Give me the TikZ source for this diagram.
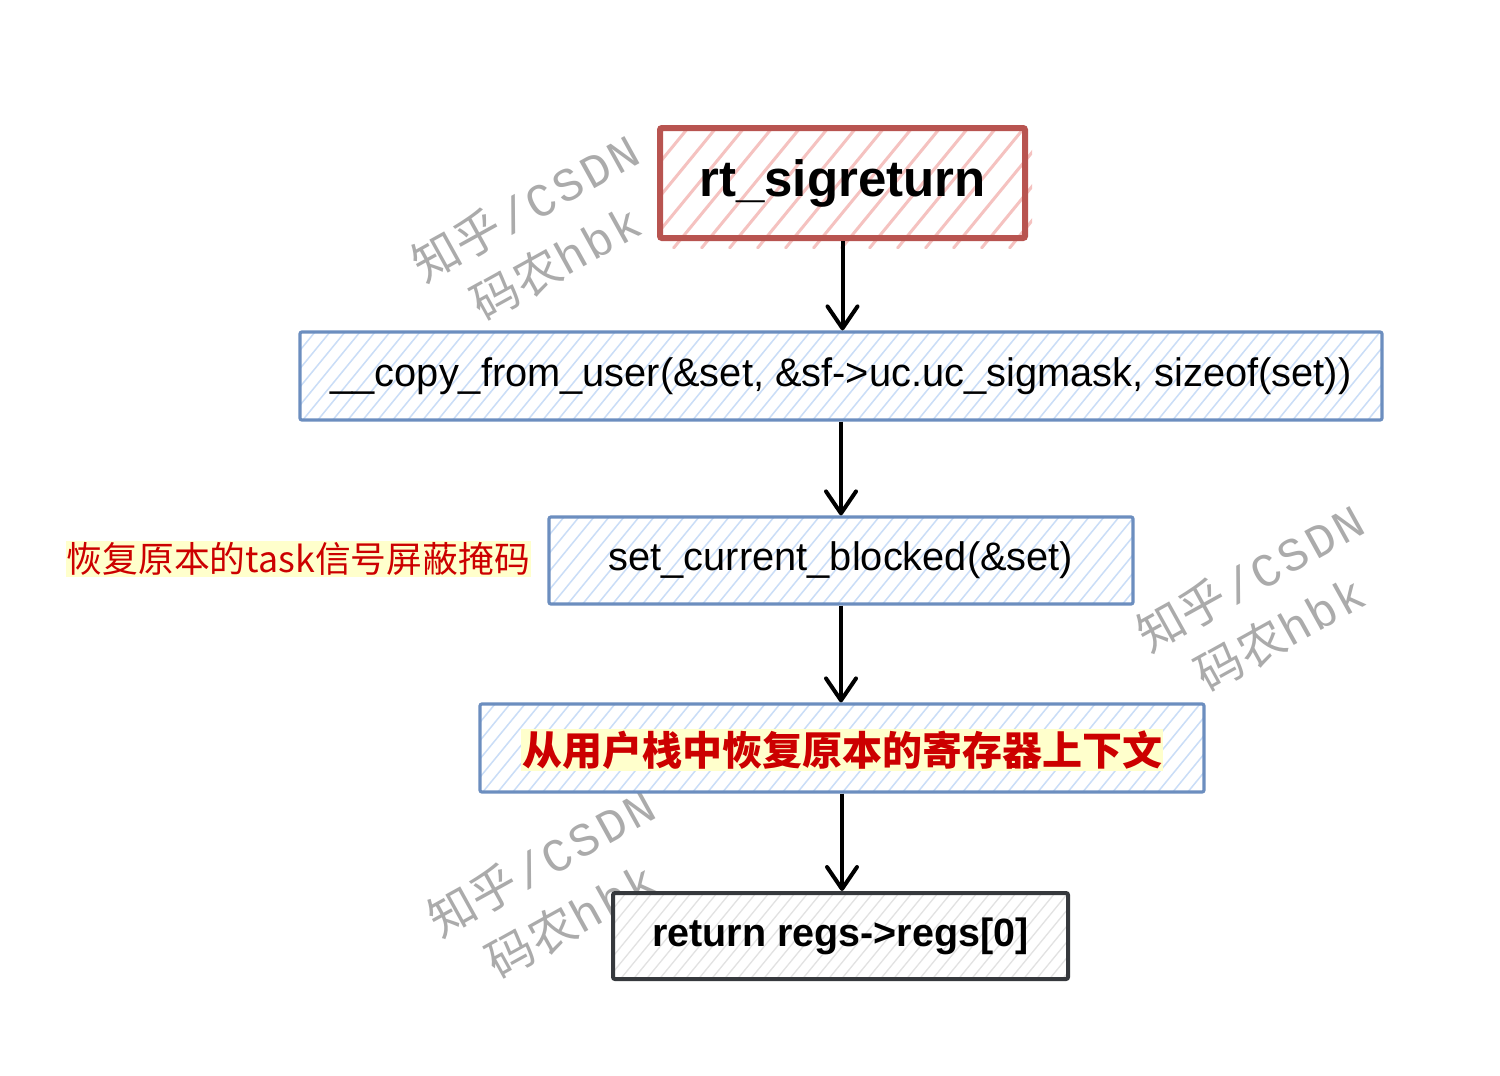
\documentclass[tikz,border=0pt]{standalone}
\usepackage{fontspec}
\setmainfont{Liberation Sans}
\newfontfamily\cjk{Noto Sans CJK SC}
\newfontfamily\wmmono{Liberation Mono}
\usetikzlibrary{arrows.meta}
\definecolor{redline}{HTML}{B85450}
\definecolor{redhatch}{HTML}{F5C2C0}
\definecolor{blueline}{HTML}{6C8EBF}
\definecolor{bluehatch}{HTML}{CADDF7}
\definecolor{darkline}{HTML}{36393D}
\definecolor{grayhatch}{HTML}{E2E2E2}
\definecolor{hlyellow}{HTML}{FFFFCC}
\definecolor{hlred}{HTML}{CC0000}
\definecolor{wmgray}{HTML}{ABABAB}
% hatch: x1 y1 x2 y2 colour spacing width
\newcommand{\hatchfill}[7]{%
  \begin{scope}
    \clip (#1,#2) rectangle (#3,#4);
    \pgfmathsetmacro\hdx{0.82*(#4-#2)}
    \pgfmathsetmacro\hstart{#1-\hdx}
    \pgfmathsetmacro\hnext{#1-\hdx+#6}
    \foreach \xx in {\hstart,\hnext,...,#3}
      \draw[#5,line width=#7pt,line cap=round] (\xx,#4) -- ++(\hdx,#2-#4);
  \end{scope}}
\newcommand{\wmk}{\kern3pt}
\newcommand{\wmlineA}{{\cjk\fontsize{47}{50}\selectfont 知乎}\wmk{\wmmono\fontsize{47}{52}\selectfont/\wmk C\wmk S\wmk D\wmk N}}
\newcommand{\wmlineB}{{\cjk\fontsize{47}{50}\selectfont 码农}{\wmmono\fontsize{47}{52}\selectfont h\wmk b\wmk k}}
\begin{document}
\begin{tikzpicture}[x=1pt,y=-1pt,
  boxbase/.style={inner sep=0pt,rounded corners=2pt},
  redbox/.style={boxbase,draw=redline,line width=6pt},
  bluebox/.style={boxbase,draw=blueline,line width=3.2pt},
  darkbox/.style={boxbase,draw=darkline,line width=4pt},
  flow/.style={line width=4pt,-{Straight Barb[length=22pt,width=30pt,line width=4pt,round]}},
  wm/.style={text=wmgray,rotate=29,inner sep=0pt}
]
\useasboundingbox (0,0) rectangle (1500,1076);
\fill[white] (0,0) rectangle (1500,1076);

% watermarks (behind the boxes)
\node[wm] (wm1a) at (525,207) {\wmlineA};
\node[wm] (wm1b) at (556,262) {\wmlineB};
\node[wm] (wm2a) at (1250,577) {\wmlineA};
\node[wm] (wm2b) at (1280,633) {\wmlineB};
\node[wm] (wm3a) at (541,862) {\wmlineA};
\node[wm] (wm3b) at (571,920) {\wmlineB};

% white ground of the boxes
\fill[white] (613,893) rectangle (1068,979);

% hatching
\hatchfill{660}{128}{1032}{248}{redhatch}{28}{3}
\hatchfill{300}{332}{1382}{420}{bluehatch}{15}{1.5}
\hatchfill{549}{517}{1133}{604}{bluehatch}{15}{1.5}
\hatchfill{480}{704}{1204}{792}{bluehatch}{15}{1.5}
\hatchfill{613}{893}{1068}{979}{grayhatch}{13}{1.3}

% boxes
\node[redbox,minimum width=365pt,minimum height=110pt] (b1) at (842.5,183)
  {\fontsize{51}{58}\selectfont\bfseries rt\_sigreturn};
\node[bluebox,minimum width=1082pt,minimum height=88pt] (b2) at (841,376)
  {\fontsize{39.8}{46}\selectfont \_\_copy\_from\_user(\&set, \&sf->uc.uc\_sigmask, sizeof(set))};
\node[bluebox,minimum width=584pt,minimum height=87pt] (b3) at (841,560.5)
  {\fontsize{39.8}{46}\selectfont set\_current\_blocked(\&set)};
\node[bluebox,minimum width=724pt,minimum height=88pt] (b4) at (842,748) {};
\node[fill=hlyellow,text=hlred,inner xsep=1pt,inner ysep=2pt] (t4) at (842,750)
  {\cjk\bfseries\fontsize{40}{46}\selectfont 从用户栈中恢复原本的寄存器上下文};
\node[darkbox,minimum width=455pt,minimum height=86pt] (b5) at (840.5,936)
  {\fontsize{39.5}{44}\selectfont\bfseries return regs->regs[0]};

% side label
\node[fill=hlyellow,text=hlred,inner xsep=1pt,inner ysep=1pt,anchor=east] (lab) at (531,559)
  {\cjk\fontsize{35.8}{40}\selectfont 恢复原本的task信号屏蔽掩码};

% connectors
\draw[flow] (b1.south) -- (b1.south |- b2.north);
\draw[flow] (b2.south) -- (b2.south |- b3.north);
\draw[flow] (b3.south) -- (b3.south |- b4.north);
\draw[flow] (b4.south) -- (b4.south |- b5.north);
\end{tikzpicture}
\end{document}
